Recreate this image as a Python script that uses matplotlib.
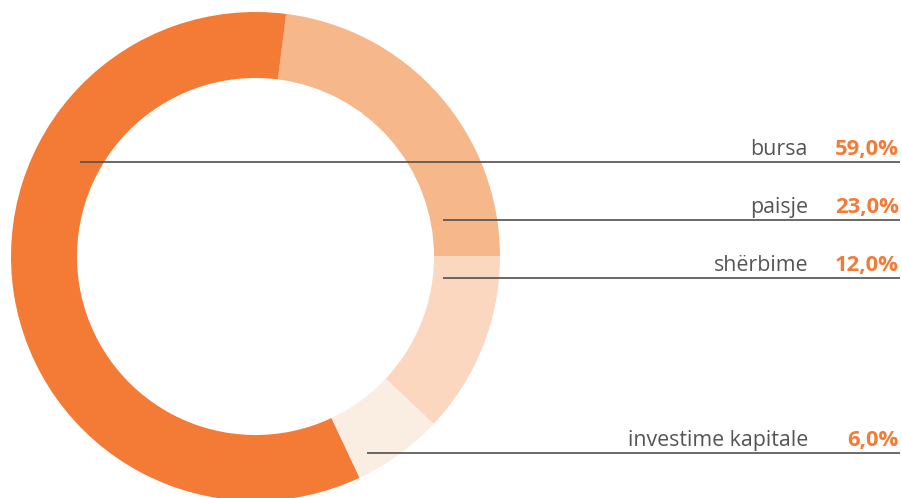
import matplotlib
matplotlib.use("Agg")
import matplotlib.pyplot as plt

categories = ["paisje", "bursa", "investime kapitale", "shërbime"]
values = [23.0, 59.0, 6.0, 12.0]
colors = ["#F6B78A", "#F47B36", "#FAEEE2", "#FBD7C0"]

# label order on right side (top to bottom)
label_order = ["bursa", "paisje", "shërbime", "investime kapitale"]
line_y = [162, 220, 278, 453]       # pixel rows of leader lines
line_x0 = [80, 443, 443, 367]       # leader line start x

W, H = 903, 498
fig = plt.figure(figsize=(W / 100, H / 100), dpi=100)
ax = fig.add_axes([0, 0, 1, 1])

cx, cy = 255.5, H - 256.5
R, width = 244.5, 66
ax.pie(values, colors=colors, startangle=0, counterclock=True,
       center=(cx, cy), radius=R, frame=True,
       wedgeprops=dict(width=width, linewidth=0, antialiased=True))
ax.set_xlim(0, W)
ax.set_ylim(0, H)
ax.set_aspect("equal")
ax.axis("off")

font = ["Open Sans", "DejaVu Sans"]
for name, y, x0 in zip(label_order, line_y, line_x0):
    v = values[categories.index(name)]
    yd = H - y
    ax.plot([x0, 900], [yd, yd], color="#505050", lw=1.2, solid_capstyle="butt", zorder=5)
    ax.text(808, yd + 7, name, ha="right", va="baseline", fontsize=15.4,
            color="#555555", family=font)
    ax.text(899, yd + 7, f"{v:.1f}%".replace(".", ","), ha="right", va="baseline",
            fontsize=15.8, fontweight="bold", color="#F47B36", family=font)

fig.savefig("out.png", dpi=100)
